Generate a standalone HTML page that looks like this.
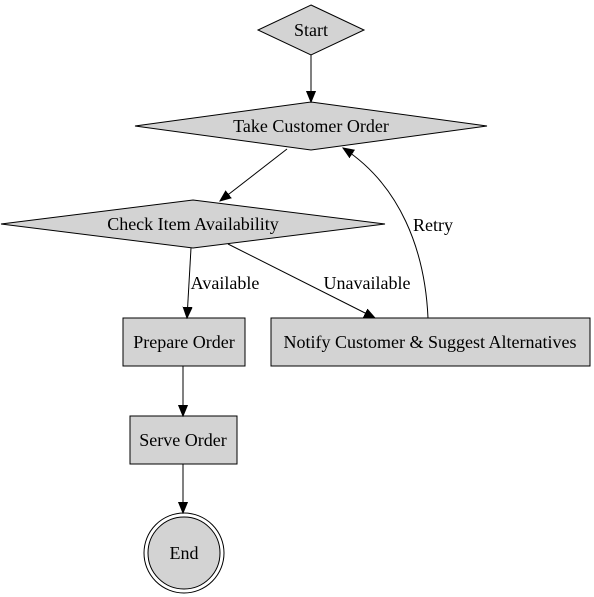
<!DOCTYPE html>
<html><head><meta charset="utf-8"><style>
html,body{margin:0;padding:0;background:#fff;}
svg{display:block;}
text{font-family:"Liberation Serif",serif;font-size:18px;fill:#000;}
</style></head><body>
<svg width="594" height="597" viewBox="0 0 594 597" xmlns="http://www.w3.org/2000/svg">
<defs>
<marker id="a" markerWidth="12" markerHeight="12" refX="11" refY="5.5" orient="auto" markerUnits="userSpaceOnUse">
<path d="M0,1 L11,5.5 L0,10 Z" fill="#000" stroke="#000"/>
</marker>
</defs>
<g stroke="#000" fill="#d3d3d3" stroke-width="1">
<polygon points="311,5 364,30 311,55 258,30"/>
<polygon points="311,102 487,126 311,150 135,126"/>
<polygon points="193,200 385,224 193,248 1,224"/>
<rect x="123" y="318" width="122" height="48"/>
<rect x="271" y="318" width="319" height="48"/>
<rect x="130" y="416" width="107" height="48"/>
<circle cx="184" cy="553" r="36"/>
<circle cx="184" cy="553" r="40" fill="none"/>
</g>
<g stroke="#000" fill="none" stroke-width="1" marker-end="url(#a)">
<line x1="311" y1="55" x2="311" y2="102"/>
<line x1="287" y1="149" x2="220" y2="201"/>
<line x1="191" y1="248" x2="187" y2="318"/>
<line x1="228" y1="244" x2="375" y2="318"/>
<path d="M428,318 C425,250 400,185 343,148"/>
<line x1="183" y1="366" x2="183" y2="416"/>
<line x1="183" y1="464" x2="183" y2="513"/>
</g>
<g text-anchor="middle">
<text x="311" y="36">Start</text>
<text x="311" y="132">Take Customer Order</text>
<text x="193" y="230">Check Item Availability</text>
<text x="184" y="348">Prepare Order</text>
<text x="430" y="348">Notify Customer &amp; Suggest Alternatives</text>
<text x="183" y="446">Serve Order</text>
<text x="184" y="559">End</text>
<text x="225" y="289">Available</text>
<text x="367" y="289">Unavailable</text>
<text x="433" y="231">Retry</text>
</g>
</svg>
</body></html>
